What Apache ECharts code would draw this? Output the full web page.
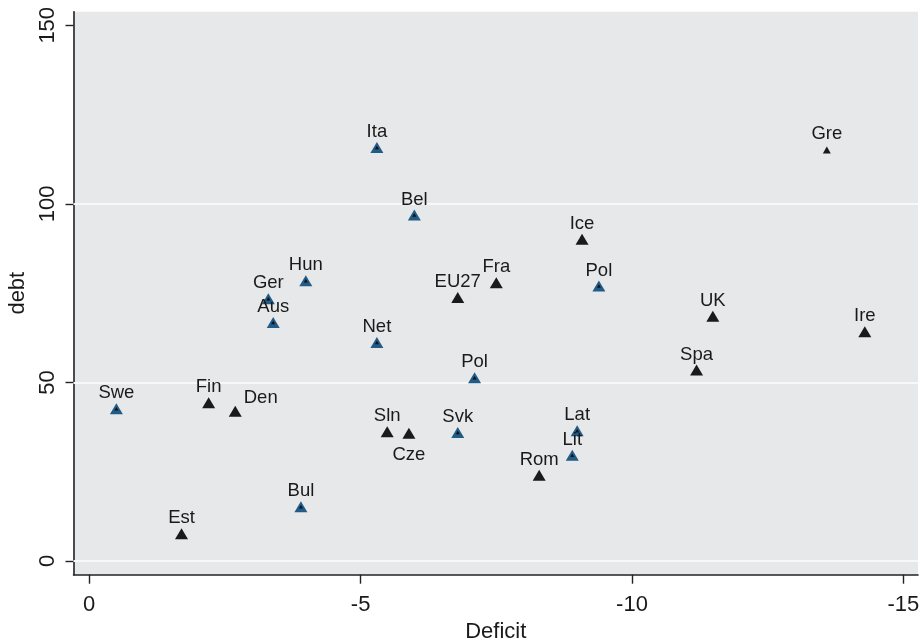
<!DOCTYPE html>
<html>
<head>
<meta charset="utf-8">
<script src="https://cdn.jsdelivr.net/npm/echarts@6/dist/echarts.min.js"></script>
<style>html,body{margin:0;padding:0;background:#fff}#c{width:922px;height:644px}</style>
</head>
<body>
<div id="c"></div>
<script>
// Group A: black markers
var blackNames   = ['Fin','Den','Est','Sln','Cze','EU27','Fra','Ice','Rom','Spa','UK','Ire'];
var blackDeficit = [-2.20,-2.69,-1.70,-5.49,-5.89,-6.79,-7.50,-9.08,-8.29,-11.19,-11.49,-14.29];
var blackDebt    = [44.3,41.9,7.6,36.2,35.8,73.8,77.9,90.1,24.0,53.5,68.5,64.2];
// Group B: blue markers
var blueNames    = ['Swe','Bul','Ger','Aus','Hun','Ita','Bel','Net','Svk','Pol','Pol','Lat','Lit'];
var blueDeficit  = [-0.50,-3.90,-3.30,-3.39,-3.99,-5.30,-5.99,-5.30,-6.79,-7.10,-9.39,-8.99,-8.90];
var blueDebt     = [42.6,15.2,73.4,66.8,78.5,115.8,96.9,61.2,36.0,51.3,77.0,36.5,29.6];
// Group C: small black marker
var smallNames   = ['Gre'];
var smallDeficit = [-13.59];
var smallDebt    = [115.1];
// Axis ticks
var xTicks = [0,-5,-10,-15];
var yTicks = [0,50,100,150];
var yGrid  = [0,50,100];

var FONT = '"Liberation Sans", Arial, Helvetica, sans-serif';
var special = {
  Den: {position:'right', distance:2, offset:[0,-13]},
  Cze: {position:'bottom', distance:7}
};
function pts(names, xs, ys, dist){
  return names.map(function(n,i){
    var lab = {formatter:n, position:'top', distance:dist};
    if (special[n]) { lab = Object.assign({}, lab, special[n]); }
    return {value:[xs[i], ys[i]], name:n, label:lab};
  });
}
var labelStyle = {show:true, color:'#1a1a1a', fontSize:18.5, fontFamily:FONT, opacity:1};

var chart = echarts.init(document.getElementById('c'), null, {renderer:'canvas'});
chart.setOption({
  animation:false,
  backgroundColor:'#ffffff',
  grid:{left:73.5, right:4, top:11.7, bottom:69.3, show:true, backgroundColor:'#e6e8ea', borderWidth:0, containLabel:false, outerBoundsMode:'none'},
  xAxis:{
    type:'value', inverse:true, min:-15.27, max:0.29,
    name:'Deficit', nameLocation:'middle', nameGap:46,
    nameTextStyle:{color:'#1a1a1a', fontSize:22, fontFamily:FONT},
    axisLine:{show:true, onZero:false, lineStyle:{color:'#222', width:1.6}},
    axisTick:{show:true, length:9, customValues:xTicks, lineStyle:{color:'#222', width:1.4}},
    axisLabel:{customValues:xTicks, margin:19, color:'#1a1a1a', fontSize:22, fontFamily:FONT, showMinLabel:true, showMaxLabel:true},
    splitLine:{show:false}
  },
  yAxis:{
    type:'value', min:-3.84, max:153.8,
    name:'debt', nameLocation:'middle', nameGap:41, nameRotate:90,
    nameTextStyle:{color:'#1a1a1a', fontSize:22, fontFamily:FONT},
    axisLine:{show:true, onZero:false, lineStyle:{color:'#222', width:1.6}},
    axisTick:{show:true, length:8, customValues:yTicks, lineStyle:{color:'#222', width:1.4}},
    axisLabel:{customValues:yTicks, rotate:90, margin:15, color:'#1a1a1a', fontSize:22, fontFamily:FONT, showMinLabel:true, showMaxLabel:true},
    splitLine:{show:false}
  },
  series:[
    {
      type:'scatter', symbol:'triangle', symbolSize:[13,11], z:3,
      itemStyle:{color:'#1a1a1a', opacity:1},
      label:labelStyle,
      data:pts(blackNames, blackDeficit, blackDebt, 0.5),
      markLine:{silent:true, symbol:'none', label:{show:false}, z:1,
        lineStyle:{color:'#f5f9fa', width:2.2, type:'solid', opacity:1},
        data:yGrid.map(function(v){return {yAxis:v};})}
    },
    {
      type:'scatter', symbol:'triangle', symbolSize:[13,11], z:3,
      itemStyle:{color:'#215c88', opacity:1},
      label:labelStyle,
      data:pts(blueNames, blueDeficit, blueDebt, 0.5)
    },
    {
      type:'scatter', symbol:'triangle', symbolSize:[4,3.5], z:4, silent:true,
      itemStyle:{color:'#111', opacity:1},
      data:blueNames.map(function(n,i){return [blueDeficit[i], blueDebt[i]];})
    },
    {
      type:'scatter', symbol:'triangle', symbolSize:[8,7], z:3,
      itemStyle:{color:'#1a1a1a', opacity:1},
      label:labelStyle,
      data:pts(smallNames, smallDeficit, smallDebt, 3)
    }
  ]
});
</script>
</body>
</html>
